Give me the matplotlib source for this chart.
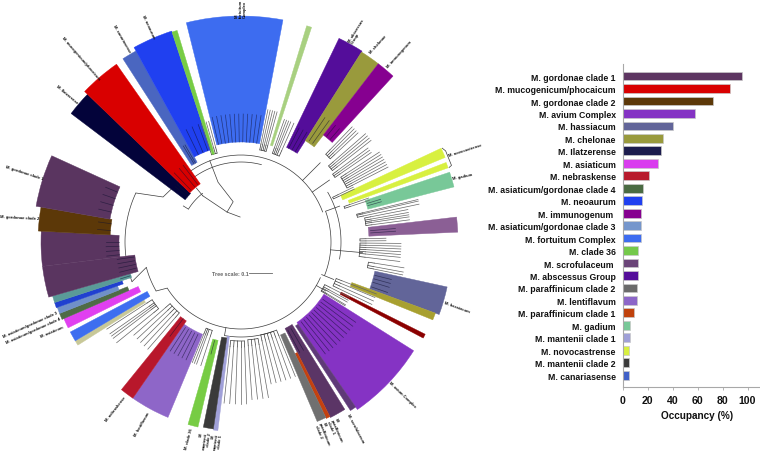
import numpy as np
import matplotlib
matplotlib.use("Agg")
import matplotlib.pyplot as plt
from matplotlib.patches import Wedge

plt.rcParams['font.family'] = ['Liberation Sans', 'DejaVu Sans']

# ---------- bar chart data ----------
clades = ["M. gordonae clade 1", "M. mucogenicum/phocaicum", "M. gordonae clade 2", "M. avium Complex",
          "M. hassiacum", "M. chelonae", "M. Ilatzerense", "M. asiaticum", "M. nebraskense",
          "M. asiaticum/gordonae clade 4", "M. neoaurum", "M. immunogenum ", "M. asiaticum/gordonae clade 3",
          "M. fortuitum Complex", "M. clade 36", "M. scrofulaceum ", "M. abscessus Group",
          "M. paraffinicum clade 2", "M. lentiflavum", "M. paraffinicum clade 1", "M. gadium",
          "M. mantenii clade 1", "M. novocastrense", "M. mantenii clade 2", "M. canariasense"]
occupancy = [95.5, 85.6, 72.3, 58, 40.3, 32.3, 30.4, 28.3, 21.3, 16, 15.2, 14.7, 14.7, 14.7,
             12.5, 12.3, 12, 11.7, 11.5, 9, 5.9, 5.6, 5.1, 5, 4.8]
bar_colors = ["#5d3561", "#d90000", "#5c3808", "#8533c4", "#626599", "#999a3c", "#1c1c4d", "#d93cee",
              "#b81a2c", "#4a6b42", "#2040f0", "#860090", "#7596cc", "#3d6cf0", "#74c94a", "#6a4478",
              "#540d9a", "#6a6a6a", "#8c66c8", "#c0420c", "#78c898", "#a0a0d8", "#d8f040", "#3a3a3a", "#4060c8"]
x_ticks = [0, 20, 40, 60, 80, 100]

# ---------- tree wedges: angle start, angle end, inner radius, outer radius, colour ----------
wedge_a1 = [136.1, 125.0, 118.8, 108.2, 106.8, 79.3, 71.8, 57.6, 52.4, 47.5, 22.5, 19.7, 14.5, 2.6,
            -20.1, -22.1, -27.8, -55.2, -57.0, -63.0, -64.2, -67.0]
wedge_a2 = [142.9, 136.1, 122.8, 118.8, 108.2, 104.0, 73.1, 64.3, 57.6, 52.4, 25.1, 21.2, 18.5, 6.6,
            -12.3, -20.1, -26.6, -32.2, -55.2, -58.2, -63.0, -64.2]
wedge_r1 = [70, 71, 91, 97, 92, 100, 101, 105, 120, 135, 110, 115, 131, 128, 137, 118, 112, 98, 100, 97, 124, 101]
wedge_r2 = [213, 217, 218, 222, 221, 226, 226, 226, 225, 225, 221, 220, 220, 217, 211, 207, 206, 204, 201, 197, 196, 195]
wedge_c = ["#03033a", "#d90000", "#4a66c0", "#2040f0", "#77cc44", "#3d6cf0", "#a8d080", "#540d9a", "#999a3c", "#860090",
           "#d8f040", "#d8f040", "#78c898", "#8b5f95", "#626599", "#a8a030", "#8b0000", "#8533c4", "#5f3a78",
           "#5b3566", "#c4410f", "#707070"]
wedge2_a1 = [261.6, 258.5, 253.8, 235.3, 231.0, 210.8, 207.8, 203.4, 201.5, 199.6, 198.0, 196.0, 187.0, 176.9, 170.1, 155.5]
wedge2_a2 = [263.0, 261.6, 256.9, 247.4, 235.3, 212.3, 210.8, 206.4, 203.4, 201.5, 199.6, 198.0, 196.0, 187.0, 176.9, 170.1]
wedge2_r1 = [95, 97, 101, 100, 96, 113, 106, 112, 122, 131, 125, 115, 107, 122, 131, 133]
wedge2_r2 = [190, 189, 190, 190, 190, 193, 193, 193, 195, 195, 196, 196, 200, 200, 203, 208]
wedge2_c = ["#a0a0d8", "#3a3a3a", "#77cc44", "#8e66c8", "#b8172b", "#c8c898", "#3e6ef0", "#e040f0", "#4f6b46",
            "#7090c8", "#2040d0", "#5a9a98", "#5a3560", "#5a3560", "#5c3808", "#5a3560"]

# ---------- wedge labels: text, angle, radius, rotation ----------
tree_labels = [
    ("M. Ilatzerense", 139.5, 215, -40), ("M. mucogenicum/phocaicum", 130.9, 216, -49),
    ("M. canariasense", 120.4, 220, -60), ("M. neoaurum", 113.2, 222, -65),
    ("M.\nfortuitum\nComplex", 90, 225, 90), ("M. abscessus\nGroup", 61.2, 228, 58),
    ("M. chelonae", 55.7, 229, 48), ("M. immunogenum", 50.1, 229, 48),
    ("M. novocastrense", 22.7, 225, 18), ("M. gadium", 16.9, 221, 12),
    ("M. hassiacum", -16.5, 212, -20), ("M. avium Complex", -43.2, 204, -44),
    ("M. scrofulaceum", -58, 202, -62), ("M.\nparaffinicum\nclade 1", -62.8, 199, -66),
    ("M.\nparaffinicum\nclade 2", -66.5, 197, -68), ("M.\nmantenii\nclade 1", 263, 193, 82),
    ("M.\nmantenii\nclade 2", 259.5, 193, 82), ("M. clade 36", 255, 192, 75),
    ("M. lentiflavum", 241.4, 193, 60), ("M. nebraskense", 233, 193, 52),
    ("M. asiaticum", 205.3, 197, 23), ("M. asiaticum/gordonae clade 3", 200.8, 196, 24),
    ("M. asiaticum/gordonae clade 4", 202.8, 196, 24), ("M. gordonae clade 1", 162.3, 208, -18),
    ("M. gordonae clade 2", 173.2, 203, -3),
]

# ---------- tree leaves: base radius, tip radius, leaf angles ----------
leaf_groups = [
    (100, 135, [78.5, 77.5, 76.5, 75.5, 74.5]), (100, 130, [70.5, 69.5, 68.5, 67.5, 66.0]),
    (128, 160, [46, 45, 44, 43]), (122, 165, [41, 40, 39, 38]), (120, 158, [36.5, 35.5, 34.5]),
    (125, 165, [33, 32, 31, 30, 29, 28, 27]), (108, 125, [26, 25]), (115, 135, [19, 18]),
    (125, 182, [13.5, 13, 12]), (132, 170, [11, 10, 9.2, 8.5, 7.5]), (125, 145, [1.5, 0.5]),
    (125, 160, [-0.5, -1.5, -2.5, -3.5, -4.5, -5.5, -7]), (135, 165, [-9, -10.5, -11.5]),
    (108, 145, [-21, -22.5, -24, -25.5]), (100, 122, [-27, -28.5, -29.5, -31, -31.5]),
    (101, 145, [-68, -70, -72, -74, -76, -78]), (104, 158, [-80, -82, -84, -86]),
    (105, 162, [-88, -90, -92, -94, -96]),
    (99, 130, [252, 250, 249, 248]), (100, 142, [229, 227, 225, 223, 221]),
    (112, 160, [219, 217, 216, 215, 213]), (98, 125, [108.6, 106.2, 105]),
]
# leaf names printed inside the coloured wedges: base radius, tip radius, angles
inner_groups = [
    (100, 128, [103, 101, 99, 97, 95, 93, 91, 89, 87, 85, 83, 81]), (97, 125, [116, 113, 110]), (91, 112, [121, 120]),
    (72, 96, [134, 130, 127]), (70, 86, [140, 138]), (105, 128, [63, 61, 59]), (122, 150, [56, 54]),
    (136, 150, [51, 49]), (132, 146, [17, 16]), (130, 155, [5, 4]), (138, 155, [-14, -15.5, -17, -19]),
    (100, 140, [-35, -37, -39, -41, -43, -45, -47, -49, -51, -53]), (100, 125, [-60, -62]),
    (102, 130, [245, 243, 241, 239, 237]), (96, 118, [233]), (102, 116, [255]), (133, 146, [158, 161, 164, 167]),
    (131, 144, [172, 175]), (122, 135, [180, 182, 184, 186]), (108, 125, [188, 190, 192, 194]), (116, 126, [197]),
]
# backbone of the tree: angle start, angle end, radius
backbone_arcs = [(128, 20, 87), (136, 75, 80), (20, -22, 90), (-24, -90, 87), (-90, -148, 87),
                 (-150, -165, 98), (200, 155, 116), (30, -10, 100), (-70, -100, 95), (148, 128, 62)]
# other branches: polylines of (angle, radius)
branch_paths = [
    [(92, 25), (115, 33), (129.6, 60)], [(115, 33), (101, 41), (111, 64), (111, 87)],
    [(129.6, 60), (129.6, 70)], [(148, 62), (148, 68)], [(45, 87), (45, 112)], [(35, 87), (35, 108)], [(20, 90), (20, 105)],
    [(-5, 90), (-5, 122)], [(-22, 87), (-22, 100)], [(-30, 87), (-30, 98)], [(-100, 87), (-100, 95)],
    [(-148, 87), (-150, 98)], [(-165, 98), (-160, 116)], [(155, 116), (150, 90), (128, 87)],
]
# bracket beside the two novocastrense bands
bracket_path = [(25.0, 222), (24.0, 224), (20.0, 224), (19.7, 221)]

scale_bar_px = [249, 272]

fig = plt.figure(figsize=(7.6, 4.52), dpi=100)
W, H = 760, 452
cx, cy = 241, 243

# tree axes: one data unit is one pixel, origin at the tree centre
tree = fig.add_axes([0, 0, 490 / W, 1])
tree.set_xlim(-cx, 490 - cx)
tree.set_ylim(cy - H, cy)
tree.set_aspect('equal')
tree.axis('off')


def pol(a, r):
    t = np.deg2rad(a)
    return r * np.cos(t), r * np.sin(t)


def arc(a1, a2, r, **kw):
    t = np.array([a1 + (a2 - a1) * i / 30 for i in range(31)])
    x, y = pol(t, r)
    tree.plot(x, y, solid_capstyle='butt', **kw)


line = dict(color="#3a3a3a", lw=0.5)
for a1, a2, r in backbone_arcs:
    arc(a1, a2, r, zorder=1, **line)
for path in branch_paths + [bracket_path]:
    a, r = np.array(path).T
    x, y = pol(a, r)
    tree.plot(x, y, zorder=1, **line)

for a1, a2, r1, r2, c in zip(wedge_a1 + wedge2_a1, wedge_a2 + wedge2_a2, wedge_r1 + wedge2_r1,
                             wedge_r2 + wedge2_r2, wedge_c + wedge2_c):
    tree.add_patch(Wedge((0, 0), r2, a1, a2, width=r2 - r1, fc=c, ec=c, lw=0.3, zorder=2))

for r1, r2, angles in leaf_groups:
    arc(angles[0], angles[-1], r1 - 6, zorder=1, **line)
    for a in angles:
        x, y = pol(a, np.array([r1 - 6, r1]))
        tree.plot(x, y, zorder=1, **line)
        x, y = pol(a, np.array([r1, r2]))
        tree.plot(x, y, color="#666666", lw=0.5, zorder=3)

for r1, r2, angles in inner_groups:
    for a in angles:
        x, y = pol(a, np.array([r1, r2]))
        tree.plot(x, y, color="#101030", lw=0.5, alpha=0.6, zorder=3)

for text, a, r, rot in tree_labels:
    x, y = pol(a, r)
    left_side = np.cos(np.deg2rad(a)) < 0
    tree.text(x, y, text, rotation=rot, rotation_mode='anchor', fontsize=3.0, fontweight='bold',
              ha='right' if left_side else 'left', va='center', linespacing=1.0, color='#111111', zorder=4)

# tree scale
tree.text(212 - cx, cy - 274, "Tree scale: 0.1", fontsize=3.9, fontweight='bold', color='#666666',
          ha='left', va='center')
tree.plot([scale_bar_px[0] - cx, scale_bar_px[1] - cx], [cy - 274, cy - 274], color='#666666', lw=0.6)

# bar chart
left, right, top, bottom = 622.5, 760, 65, 388
ax = fig.add_axes([left / W, 1 - bottom / H, (right - left) / W, (bottom - top) / H])
y = np.arange(len(clades))
ax.barh(y, occupancy, height=0.7, color=bar_colors, edgecolor='#c8c8c8', linewidth=0.5)
ax.set_ylim(len(clades) - 0.05, -0.97)
ax.set_xlim(0, (right - left) / 1.25)
ax.set_yticks(y, clades)
ax.set_xticks(x_ticks)
for s in ('top', 'right'):
    ax.spines[s].set_visible(False)
for s in ('left', 'bottom'):
    ax.spines[s].set_color('#a8a8a8')
    ax.spines[s].set_linewidth(0.8)
ax.tick_params(axis='y', length=0, pad=4.8, labelsize=6.35, labelcolor='#111111')
ax.tick_params(axis='x', length=2, width=0.6, color='#a8a8a8', pad=4, labelsize=7.6, labelcolor='#111111')
for t in ax.get_yticklabels() + ax.get_xticklabels():
    t.set_fontweight('bold')
ax.set_xlabel("Occupancy (%)", fontsize=7.2, fontweight='bold', color='#111111')
ax.xaxis.set_label_coords((697 - left) / (right - left), -(416 - bottom) / (bottom - top))
ax.xaxis.label.set_verticalalignment('center')

fig.savefig("out.png", dpi=100)
